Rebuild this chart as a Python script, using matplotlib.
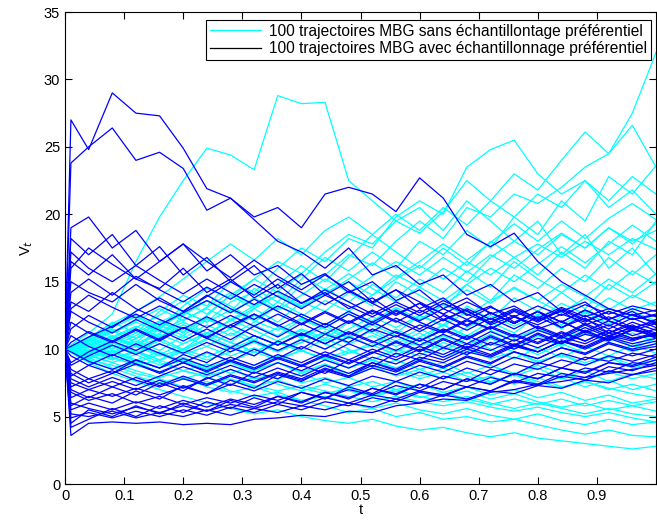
import numpy as np
import matplotlib
matplotlib.use("Agg")
import matplotlib.pyplot as plt
from matplotlib.lines import Line2D

plt.rcParams['font.family'] = ['Liberation Sans', 'DejaVu Sans']

# time grids (values read at t = 0, 0.04, ..., 1 ; IS paths also at t = 0.01)
t_sans = [0.0, 0.04, 0.08, 0.12, 0.16, 0.20, 0.24, 0.28, 0.32, 0.36, 0.40, 0.44, 0.48,
          0.52, 0.56, 0.60, 0.64, 0.68, 0.72, 0.76, 0.80, 0.84, 0.88, 0.92, 0.96, 1.0]
t_avec = [0.0, 0.01] + t_sans[1:]

# trajectories without importance sampling (cyan)
sans = [
    [10, 11.2, 12.6, 16.5, 19.8, 22.5, 24.9, 24.4, 23.3, 28.8, 28.2, 28.3, 22.5, 21.0, 19.5, 20.5, 18.8, 21.0, 19.5, 18.0, 19.5, 17.0, 18.5, 16.0, 17.5, 15.5],
    [10, 9.6, 10.8, 10.2, 11.5, 12.8, 12.0, 13.5, 14.2, 13.0, 14.8, 15.5, 17.0, 16.2, 18.0, 19.5, 18.2, 20.5, 19.8, 21.5, 20.8, 22.0, 23.5, 24.5, 27.5, 32.0],
    [10, 10.5, 11.8, 12.5, 11.6, 13.2, 14.5, 13.8, 15.2, 16.5, 15.6, 17.2, 18.5, 17.8, 19.5, 18.6, 20.2, 22.5, 21.0, 23.0, 21.8, 24.0, 26.1, 24.5, 26.6, 23.5],
    [10, 10.8, 12.0, 11.2, 12.8, 14.0, 13.2, 15.0, 14.2, 16.0, 17.5, 16.5, 18.2, 17.5, 19.8, 21.0, 20.0, 23.5, 24.8, 25.5, 23.0, 21.5, 22.5, 20.5, 21.8, 20.0],
    [10, 9.2, 10.5, 11.5, 10.8, 12.5, 13.6, 12.8, 14.5, 13.5, 15.2, 16.8, 15.8, 17.2, 16.0, 18.0, 17.0, 18.8, 17.5, 19.8, 18.5, 21.0, 19.5, 22.8, 21.5, 23.6],
    [10, 10.2, 9.5, 10.8, 12.0, 11.2, 12.5, 14.0, 13.0, 14.8, 16.2, 15.0, 16.8, 18.5, 17.2, 16.0, 17.5, 16.2, 18.0, 16.8, 15.5, 17.2, 16.0, 18.0, 17.0, 19.5],
    [10, 10.6, 11.4, 10.5, 11.8, 11.0, 12.2, 11.5, 13.0, 12.0, 13.5, 12.8, 14.2, 13.2, 15.0, 14.0, 13.0, 14.8, 13.6, 15.5, 14.5, 16.0, 15.0, 16.8, 15.5, 17.0],
    [10, 9.5, 10.2, 9.6, 10.8, 10.0, 11.2, 10.5, 11.8, 11.0, 12.2, 11.5, 10.8, 12.0, 11.2, 12.5, 11.8, 13.2, 12.2, 13.8, 12.8, 14.2, 13.0, 14.8, 13.8, 15.0],
    [10, 10.4, 9.8, 10.6, 9.9, 11.0, 10.2, 11.2, 10.5, 9.8, 10.8, 10.0, 11.0, 10.2, 11.5, 10.6, 11.8, 11.0, 12.0, 11.2, 12.5, 11.5, 12.8, 11.8, 12.5, 12.0],
    [10, 9.8, 10.5, 9.9, 9.2, 10.0, 9.4, 10.2, 9.5, 10.5, 9.8, 10.8, 10.0, 9.2, 10.0, 9.5, 10.5, 9.8, 10.8, 10.0, 11.0, 10.2, 11.2, 10.5, 10.0, 10.8],
    [10, 9.6, 9.0, 9.6, 8.8, 9.4, 8.6, 9.2, 8.5, 9.0, 8.2, 8.8, 8.0, 8.6, 9.2, 8.5, 9.0, 8.2, 8.8, 8.0, 8.6, 7.8, 8.4, 7.6, 8.2, 7.8],
    [10, 10.2, 9.4, 8.8, 9.2, 8.4, 8.0, 8.5, 7.8, 8.2, 7.5, 7.9, 7.2, 7.6, 7.0, 7.4, 6.8, 7.2, 6.6, 7.0, 6.4, 6.8, 6.2, 6.6, 6.0, 6.3],
    [10, 9.4, 8.6, 8.0, 7.5, 7.9, 7.2, 6.8, 7.2, 6.6, 6.2, 6.5, 6.0, 5.6, 6.0, 5.5, 5.2, 5.6, 5.1, 4.8, 5.2, 4.7, 4.4, 4.8, 4.4, 4.6],
    [10, 9.0, 8.2, 7.6, 7.0, 6.5, 6.0, 5.6, 5.2, 5.5, 5.0, 4.7, 4.5, 4.8, 4.3, 4.0, 4.2, 3.8, 3.5, 3.8, 3.4, 3.2, 3.0, 2.8, 2.6, 2.8],
    [10, 9.2, 8.8, 8.2, 7.8, 7.2, 7.6, 6.9, 6.5, 6.8, 6.2, 5.8, 5.3, 5.6, 5.0, 5.3, 4.8, 5.0, 4.6, 4.8, 4.4, 4.0, 3.7, 4.0, 3.6, 3.5],
    [10, 10.4, 11.0, 10.2, 10.8, 11.8, 11.0, 12.2, 11.4, 10.6, 11.5, 10.8, 12.0, 11.2, 10.4, 11.2, 10.2, 9.6, 10.4, 9.8, 9.0, 9.6, 8.8, 9.4, 8.6, 9.0],
    [10, 9.8, 9.2, 9.8, 9.0, 8.4, 8.9, 8.2, 8.8, 9.5, 8.8, 9.4, 8.6, 9.2, 8.4, 7.8, 8.3, 7.6, 8.0, 7.4, 7.9, 7.2, 7.6, 7.0, 7.4, 6.9],
    [10, 10.8, 11.6, 12.4, 11.5, 12.8, 14.0, 13.2, 12.2, 13.5, 12.6, 11.8, 12.8, 11.9, 13.0, 12.0, 11.2, 12.2, 11.4, 10.6, 11.5, 10.8, 11.8, 11.0, 10.2, 11.0],
    [10, 9.9, 10.8, 11.6, 12.5, 13.6, 12.6, 14.0, 15.2, 14.2, 13.2, 14.5, 13.5, 14.8, 13.8, 15.2, 14.2, 15.8, 14.6, 16.5, 15.2, 14.2, 15.5, 14.4, 15.8, 14.8],
    [10, 9.4, 9.9, 9.2, 9.8, 9.1, 8.5, 9.0, 8.3, 7.8, 8.2, 7.5, 7.9, 7.2, 7.6, 6.9, 6.5, 6.9, 6.3, 6.7, 6.1, 5.7, 6.0, 5.5, 5.8, 5.4],
    [10, 10.6, 10.0, 10.8, 11.5, 10.8, 11.8, 11.0, 12.0, 13.2, 12.4, 13.6, 12.8, 14.0, 15.5, 14.6, 16.0, 15.0, 16.8, 18.0, 17.0, 18.5, 17.5, 19.0, 18.0, 18.8],
    [10, 10.2, 10.9, 10.3, 9.6, 10.4, 11.2, 10.5, 9.8, 10.6, 11.4, 10.6, 11.5, 12.4, 11.6, 12.5, 11.7, 12.8, 12.0, 13.0, 12.2, 13.4, 12.6, 13.8, 12.9, 13.5],
    [10, 9.7, 10.3, 9.7, 10.4, 9.6, 10.2, 9.5, 10.1, 9.3, 9.9, 9.2, 9.7, 10.3, 9.6, 10.2, 9.4, 10.0, 9.3, 9.8, 9.1, 9.6, 9.0, 9.5, 8.8, 9.2],
    [10, 10.3, 9.6, 10.2, 9.5, 10.0, 10.8, 10.0, 10.7, 9.9, 10.5, 11.2, 10.4, 11.0, 10.2, 10.9, 11.8, 10.9, 11.6, 10.8, 11.5, 10.7, 11.4, 10.6, 11.2, 10.5],
    [10, 10.9, 11.9, 12.8, 13.9, 15.2, 16.5, 17.8, 16.6, 18.2, 17.0, 18.8, 19.8, 18.5, 20.0, 18.8, 20.5, 19.2, 21.0, 19.8, 21.5, 20.5, 22.5, 21.0, 22.8, 21.5],
    [10, 10.5, 11.2, 12.0, 11.3, 12.2, 13.0, 12.2, 13.2, 14.0, 13.1, 14.2, 15.0, 14.0, 15.2, 16.2, 15.2, 16.5, 15.5, 16.8, 17.8, 16.8, 18.0, 17.0, 18.2, 17.4],
    [10, 10.8, 10.2, 11.0, 12.0, 12.8, 12.0, 12.9, 12.1, 11.4, 12.3, 11.6, 12.6, 11.8, 12.9, 12.1, 13.3, 12.5, 13.6, 14.5, 13.6, 14.8, 13.9, 15.2, 14.2, 15.6],
    [10, 9.3, 9.8, 9.1, 8.6, 9.2, 8.5, 9.1, 8.4, 9.0, 8.3, 8.9, 8.2, 8.8, 8.0, 8.5, 7.8, 8.3, 7.6, 8.1, 7.4, 7.9, 7.2, 7.7, 7.0, 7.4],
    [10, 10.1, 10.9, 11.7, 10.9, 11.8, 11.0, 10.2, 11.0, 10.3, 11.2, 10.4, 9.7, 10.5, 9.8, 10.6, 9.9, 10.8, 10.0, 9.3, 10.1, 9.4, 10.2, 9.5, 10.3, 9.7],
    [10, 9.1, 8.5, 9.0, 8.3, 7.8, 8.3, 7.7, 7.2, 7.7, 7.1, 6.7, 7.1, 6.6, 7.0, 6.5, 6.1, 6.5, 6.0, 5.6, 6.0, 5.6, 5.2, 5.6, 5.2, 5.0],
    [10, 10.7, 11.5, 10.8, 11.7, 12.6, 13.6, 12.7, 13.8, 12.9, 14.0, 15.2, 14.2, 15.4, 16.5, 15.5, 16.8, 15.7, 17.0, 16.0, 17.4, 18.6, 17.5, 19.0, 17.8, 19.3],
    [10, 9.9, 9.3, 9.9, 10.6, 9.9, 10.7, 11.5, 10.7, 11.6, 10.8, 11.7, 10.9, 11.8, 11.0, 10.2, 11.0, 10.3, 11.1, 10.3, 9.6, 10.4, 9.7, 10.5, 9.8, 10.4],
    [10, 10.3, 11.0, 10.3, 11.1, 10.4, 11.2, 10.5, 9.8, 10.6, 9.9, 9.3, 9.9, 9.2, 8.6, 9.3, 8.7, 9.4, 8.8, 8.2, 8.8, 8.2, 7.7, 8.3, 7.8, 8.2],
    [10, 9.6, 10.4, 11.2, 12.1, 11.3, 12.3, 11.5, 12.5, 11.7, 10.9, 11.9, 11.1, 12.1, 13.1, 12.2, 13.3, 14.4, 13.4, 14.6, 13.6, 12.7, 13.8, 12.9, 14.0, 13.2],
    [10, 10.2, 9.6, 9.0, 9.6, 9.0, 9.7, 9.1, 9.8, 9.2, 9.9, 9.2, 8.6, 9.2, 8.6, 8.0, 8.6, 8.0, 7.5, 8.1, 7.6, 7.1, 7.6, 7.1, 6.7, 6.4],
    [10, 10.6, 11.3, 12.1, 13.0, 12.1, 13.1, 14.2, 13.2, 14.3, 15.5, 14.4, 15.6, 14.5, 13.5, 14.6, 13.6, 14.8, 16.0, 15.0, 16.3, 17.6, 16.4, 17.8, 19.2, 18.0],
    [10, 9.5, 9.0, 8.4, 7.9, 8.4, 7.9, 7.4, 7.9, 7.4, 6.9, 7.4, 6.9, 6.5, 6.9, 6.4, 6.8, 6.3, 5.9, 6.3, 5.9, 6.3, 5.8, 6.2, 5.8, 6.1],
    [10, 10.4, 9.7, 10.4, 11.2, 12.0, 11.2, 12.1, 13.0, 14.0, 13.1, 14.1, 15.2, 16.4, 15.3, 16.5, 17.8, 16.6, 17.9, 19.3, 18.0, 19.5, 18.2, 19.7, 20.8, 19.6],
    [10, 9.8, 10.5, 9.8, 9.2, 9.8, 9.2, 9.8, 10.5, 9.8, 10.5, 11.3, 10.5, 11.4, 10.6, 11.5, 10.7, 11.6, 12.5, 11.7, 12.6, 11.8, 12.7, 11.9, 12.8, 12.1],
    [10, 10.0, 9.4, 8.8, 8.3, 7.8, 7.4, 7.8, 7.3, 6.9, 7.3, 6.9, 6.5, 6.1, 6.5, 6.1, 5.8, 6.1, 5.7, 5.4, 5.7, 5.3, 5.0, 5.3, 4.9, 4.6],
]

# trajectories with importance sampling (blue)
avec = [
    [10, 27.0, 24.8, 29.0, 27.5, 27.3, 24.9, 21.9, 21.2, 19.6, 18.0, 17.2, 16.0, 17.5, 15.5, 16.2, 14.8, 15.5, 14.0, 14.8, 13.5, 14.2, 12.8, 13.5, 12.2, 12.8, 11.8],
    [10, 23.8, 25.0, 26.4, 24.0, 24.6, 23.4, 20.3, 21.2, 19.8, 20.5, 19.0, 21.5, 22.0, 21.5, 20.2, 22.7, 21.2, 18.5, 17.6, 18.6, 16.5, 15.0, 14.0, 13.0, 12.5, 12.0],
    [10, 19.0, 19.8, 17.5, 18.8, 16.5, 17.8, 15.8, 17.0, 15.5, 16.2, 14.8, 15.6, 14.2, 15.0, 13.6, 14.4, 13.0, 13.8, 12.6, 13.2, 12.2, 12.8, 11.8, 12.4, 11.6, 12.0],
    [10, 18.2, 17.0, 18.5, 16.2, 17.6, 15.5, 16.8, 15.0, 16.2, 14.5, 15.6, 14.0, 15.0, 13.5, 14.4, 13.0, 13.8, 12.5, 13.2, 12.0, 12.8, 11.6, 12.3, 11.2, 11.8, 11.0],
    [10, 16.5, 15.5, 17.0, 15.2, 14.5, 16.0, 14.2, 15.2, 13.8, 14.8, 13.4, 14.2, 13.0, 13.8, 12.6, 13.4, 12.2, 12.9, 11.8, 12.5, 11.5, 12.1, 11.2, 11.8, 11.0, 11.5],
    [10, 15.0, 14.2, 13.5, 14.8, 13.6, 12.8, 14.0, 13.0, 12.2, 13.2, 12.4, 11.6, 12.6, 11.8, 12.8, 12.0, 11.3, 12.2, 11.5, 12.4, 11.6, 10.9, 11.8, 11.0, 11.6, 10.8],
    [10, 13.5, 12.8, 14.2, 13.0, 12.2, 11.5, 12.4, 11.6, 12.6, 11.8, 11.0, 11.9, 11.1, 12.0, 11.2, 10.6, 11.5, 10.8, 11.7, 11.0, 10.4, 11.2, 10.6, 11.4, 10.8, 11.2],
    [10, 12.0, 11.2, 10.5, 11.4, 10.6, 11.6, 10.8, 10.1, 11.0, 10.3, 11.2, 10.4, 11.3, 10.6, 9.9, 10.8, 10.1, 11.0, 10.3, 11.1, 10.5, 11.3, 10.6, 11.4, 10.8, 11.0],
    [10, 11.0, 10.2, 9.5, 10.4, 9.7, 9.0, 9.8, 9.1, 10.0, 9.3, 10.2, 9.5, 10.4, 9.7, 10.6, 9.9, 10.8, 10.1, 11.0, 10.3, 11.2, 10.5, 11.4, 10.7, 11.5, 10.9],
    [10, 9.5, 8.8, 9.6, 8.9, 8.3, 9.0, 8.4, 9.2, 8.6, 9.4, 8.8, 9.6, 9.0, 9.8, 9.2, 10.0, 9.4, 10.2, 9.6, 10.4, 9.8, 10.6, 10.0, 10.8, 10.2, 10.6],
    [10, 8.5, 7.8, 8.4, 7.7, 7.2, 7.8, 7.3, 8.0, 7.5, 8.2, 7.7, 8.4, 7.9, 8.6, 8.1, 8.8, 8.3, 9.1, 8.6, 9.4, 8.9, 9.7, 9.2, 10.0, 9.5, 10.0],
    [10, 7.5, 7.0, 6.5, 7.1, 6.6, 7.2, 6.7, 7.4, 6.9, 7.6, 7.1, 7.8, 7.3, 8.0, 7.6, 8.3, 7.8, 8.6, 8.1, 8.9, 8.5, 9.2, 8.8, 9.5, 9.1, 9.6],
    [10, 6.8, 6.2, 6.7, 6.0, 6.5, 5.9, 6.4, 6.0, 6.6, 6.2, 6.8, 6.4, 7.0, 6.6, 7.3, 6.9, 7.6, 7.2, 7.9, 7.5, 8.2, 7.9, 8.6, 8.3, 9.0, 8.8],
    [10, 6.0, 5.6, 5.2, 5.7, 5.3, 5.8, 5.4, 5.9, 5.6, 6.1, 5.8, 6.4, 6.0, 6.6, 6.3, 6.9, 6.6, 7.2, 6.9, 7.6, 7.3, 8.0, 7.7, 8.4, 8.1, 8.6],
    [10, 5.2, 5.0, 5.4, 4.9, 5.3, 5.0, 5.5, 5.1, 5.6, 5.3, 5.8, 5.5, 6.0, 5.7, 6.3, 6.0, 6.6, 6.3, 6.9, 6.7, 7.3, 7.1, 7.7, 7.5, 8.1, 8.4],
    [10, 3.6, 4.5, 4.6, 4.5, 4.6, 4.4, 4.5, 4.4, 4.8, 4.9, 5.1, 5.0, 5.4, 5.3, 5.8, 6.0, 6.3, 6.2, 6.8, 7.0, 7.4, 7.6, 7.9, 8.2, 8.5, 8.8],
    [10, 4.5, 5.5, 5.0, 5.8, 5.2, 6.0, 5.4, 6.2, 5.7, 6.5, 6.0, 6.8, 6.3, 7.1, 6.6, 7.4, 7.0, 7.8, 7.4, 8.2, 7.8, 8.6, 8.3, 9.0, 8.8, 9.4],
    [10, 5.8, 6.5, 6.0, 6.9, 6.3, 7.3, 6.7, 7.7, 7.1, 8.1, 7.6, 8.5, 8.0, 9.0, 8.5, 9.4, 9.0, 9.8, 9.4, 10.2, 9.8, 10.6, 10.2, 11.0, 10.6, 11.2],
    [10, 7.0, 6.4, 7.2, 6.6, 7.5, 6.9, 7.9, 7.3, 8.3, 7.8, 8.8, 8.2, 9.2, 8.7, 9.7, 9.2, 10.1, 9.6, 10.5, 10.0, 10.8, 10.4, 11.1, 10.7, 11.4, 11.0],
    [10, 8.0, 8.8, 8.2, 9.2, 8.6, 9.6, 9.0, 10.1, 9.5, 10.6, 10.0, 11.1, 10.5, 11.5, 10.9, 11.8, 11.2, 12.1, 11.5, 12.4, 11.8, 12.6, 12.0, 12.8, 12.2, 12.5],
    [10, 9.0, 9.8, 10.6, 9.9, 10.8, 11.6, 10.8, 11.8, 12.6, 11.7, 12.6, 11.8, 12.8, 12.0, 12.9, 12.1, 13.0, 12.2, 13.1, 12.4, 13.2, 12.5, 13.3, 12.6, 13.2, 12.8],
    [10, 14.2, 15.2, 14.0, 15.4, 14.4, 13.5, 14.6, 13.7, 14.8, 13.9, 13.0, 14.0, 13.2, 12.4, 13.3, 12.5, 13.4, 12.6, 11.9, 12.8, 12.0, 12.9, 12.1, 12.8, 12.2, 12.6],
    [10, 11.5, 12.5, 11.6, 12.8, 13.8, 12.8, 13.9, 15.0, 14.0, 15.2, 14.2, 13.3, 14.3, 13.4, 12.5, 13.4, 12.6, 11.8, 12.7, 11.9, 12.8, 12.0, 11.3, 12.1, 11.4, 11.9],
    [10, 16.0, 17.5, 16.3, 15.2, 16.5, 17.8, 16.5, 15.3, 16.6, 15.4, 14.4, 15.5, 14.4, 13.4, 14.4, 13.5, 12.6, 13.5, 12.7, 11.9, 12.8, 12.0, 12.9, 12.1, 11.5, 12.2],
    [10, 4.2, 4.8, 5.6, 5.0, 5.8, 5.3, 6.1, 5.6, 6.4, 5.9, 6.8, 6.3, 7.2, 6.7, 7.6, 7.1, 8.0, 7.6, 8.5, 8.1, 9.0, 8.6, 9.4, 9.1, 9.7, 9.4],
    [10, 10.5, 11.3, 10.6, 11.5, 10.7, 11.6, 10.9, 11.8, 11.0, 10.3, 11.1, 10.4, 11.2, 10.5, 11.3, 10.6, 11.4, 10.7, 11.6, 10.9, 11.7, 11.0, 11.9, 11.2, 12.0, 11.4],
    [10, 8.8, 9.5, 10.3, 9.6, 10.4, 9.7, 10.5, 9.8, 10.6, 9.9, 10.7, 10.0, 10.9, 10.2, 11.0, 10.3, 11.1, 10.4, 11.3, 10.6, 11.4, 10.8, 11.6, 10.9, 11.7, 11.2],
    [10, 7.2, 7.8, 7.2, 7.9, 7.3, 8.0, 7.4, 8.1, 7.6, 8.3, 7.8, 8.6, 8.0, 8.8, 8.3, 9.1, 8.6, 9.4, 8.9, 9.8, 9.3, 10.1, 9.7, 10.5, 10.0, 10.4],
    [10, 12.8, 12.0, 11.2, 12.2, 11.4, 10.6, 11.5, 10.7, 11.7, 10.9, 11.9, 11.1, 12.1, 11.3, 12.3, 11.5, 12.5, 11.7, 12.7, 11.9, 12.8, 12.0, 12.9, 12.2, 13.0, 12.4],
    [10, 6.4, 7.0, 7.6, 7.0, 7.7, 7.1, 7.8, 8.5, 7.9, 8.6, 8.0, 8.8, 8.2, 9.0, 8.4, 9.2, 8.7, 9.5, 9.0, 9.8, 9.3, 10.1, 9.6, 10.4, 9.9, 10.2],
    [10, 17.2, 16.0, 15.0, 16.2, 15.1, 14.1, 15.2, 14.2, 13.3, 14.3, 13.4, 14.4, 13.5, 12.6, 13.5, 12.7, 13.6, 12.8, 12.0, 12.9, 12.1, 13.0, 12.2, 11.5, 12.3, 11.6],
    [10, 9.8, 9.1, 8.5, 9.2, 8.6, 9.3, 8.7, 9.4, 8.8, 9.6, 9.0, 9.8, 9.2, 10.0, 9.4, 10.2, 9.6, 10.4, 9.9, 10.7, 10.1, 10.9, 10.4, 11.2, 10.7, 11.1],
    [10, 5.5, 6.0, 5.5, 6.1, 5.6, 6.2, 5.7, 6.3, 5.9, 6.5, 6.1, 6.8, 6.4, 7.1, 6.7, 7.4, 7.0, 7.8, 7.4, 8.2, 7.8, 8.6, 8.2, 9.0, 8.7, 9.2],
    [10, 13.0, 14.0, 13.1, 12.3, 13.2, 12.4, 11.6, 12.5, 11.7, 12.6, 11.8, 12.7, 11.9, 12.8, 12.0, 12.9, 12.1, 13.0, 12.2, 13.0, 12.3, 13.1, 12.4, 13.0, 12.5, 12.9],
    [10, 7.8, 7.2, 7.9, 7.3, 8.0, 8.7, 8.1, 8.8, 8.2, 9.0, 8.4, 9.2, 8.6, 9.4, 8.9, 9.7, 9.2, 10.0, 9.5, 10.3, 9.8, 10.6, 10.1, 10.9, 10.4, 10.8],
    [10, 4.9, 5.3, 4.9, 5.4, 5.0, 5.5, 5.1, 5.7, 5.3, 5.9, 5.5, 6.1, 5.8, 6.4, 6.1, 6.8, 6.5, 7.2, 6.9, 7.7, 7.4, 8.2, 7.9, 8.7, 8.4, 9.0],
    [10, 10.2, 10.9, 11.7, 12.6, 11.8, 12.7, 13.6, 12.7, 13.7, 12.8, 11.9, 12.8, 12.0, 12.9, 12.1, 11.3, 12.2, 11.4, 12.3, 11.5, 12.4, 11.6, 12.5, 11.7, 12.6, 11.9],
    [10, 8.2, 7.5, 8.2, 8.9, 8.2, 9.0, 8.3, 9.1, 8.5, 9.3, 8.7, 9.5, 8.9, 9.7, 10.5, 9.8, 10.7, 10.0, 10.9, 10.2, 11.1, 10.4, 11.3, 10.6, 11.5, 11.1],
]

legend_labels = ["100 trajectoires MBG sans échantillontage préférentiel",
                 "100 trajectoires MBG avec échantillonnage préférentiel"]

fig = plt.figure(figsize=(6.57, 5.21), dpi=100)
ax = fig.add_axes([65 / 657, 37 / 521, 591 / 657, 472 / 521])

for path in sans:
    ax.plot(t_sans, path, color='#00ffff', linewidth=0.9)
for path in avec:
    ax.plot(t_avec, path, color='#0000ff', linewidth=0.9)

ax.set_xlim(0, 1)
ax.set_ylim(0, 35)
ax.set_xticks(np.arange(0, 1.0, 0.1))
ax.set_xticklabels(['0'] + ['%.1f' % v for v in np.arange(0.1, 0.95, 0.1)])
ax.set_yticks(np.arange(0, 36, 5))
ax.tick_params(direction='in', top=True, right=True, length=5, labelsize=10.5, width=0.8)
for s in ax.spines.values():
    s.set_linewidth(0.8)
ax.set_xlabel('t', fontsize=10.5, labelpad=0)
ax.set_ylabel('V$_t$', fontsize=10.5, labelpad=6)

handles = [Line2D([], [], color='#00ffff', linewidth=0.9),
           Line2D([], [], color='black', linewidth=0.9)]
leg = ax.legend(handles, legend_labels, loc='upper right',
                bbox_to_anchor=(1 - 5 / 591, 1 - 8 / 472), borderaxespad=0,
                fontsize=11.2, handlelength=3.3, handletextpad=0.5,
                fancybox=False, framealpha=1, edgecolor='black',
                borderpad=0.25, labelspacing=0.15)
leg.get_frame().set_linewidth(0.8)

fig.savefig('out.png', dpi=100)
